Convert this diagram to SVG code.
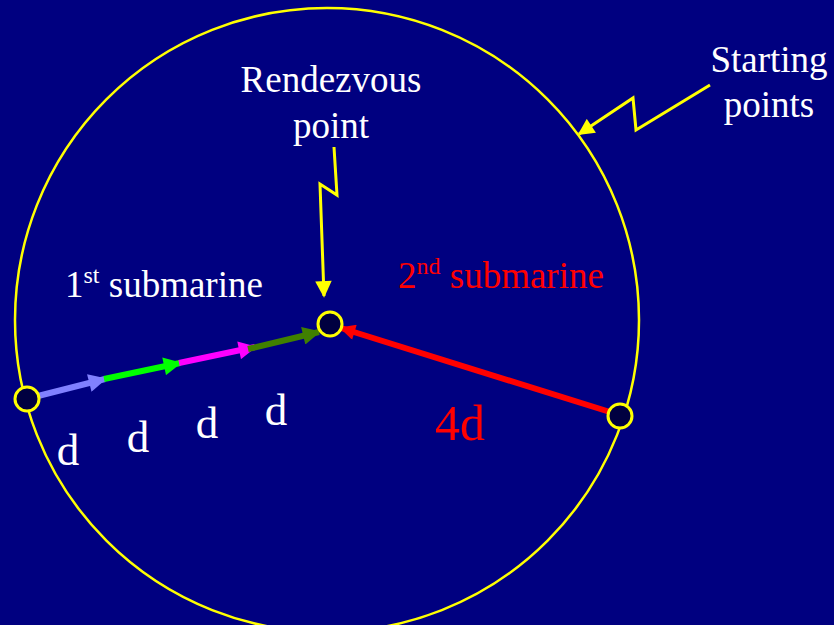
<svg xmlns="http://www.w3.org/2000/svg" width="834" height="625" viewBox="0 0 834 625">
<defs>
<style>
.t{font-family:"Liberation Serif","Times New Roman",serif;fill:#fff}
.r{fill:#ff0000}
.node{fill:#000040;stroke:#ffff00;stroke-width:3}
.seg{stroke-width:6;fill:none}
.bolt{stroke:#ffff00;stroke-width:3;fill:none;stroke-linejoin:miter}
</style>
<marker id="mb" viewBox="0 0 10 10" refX="9" refY="5" markerWidth="3.2" markerHeight="3" orient="auto" markerUnits="strokeWidth"><path d="M0,0L10,5L0,10z" fill="#8080ff"/></marker>
<marker id="mg" viewBox="0 0 10 10" refX="9" refY="5" markerWidth="3.2" markerHeight="3" orient="auto" markerUnits="strokeWidth"><path d="M0,0L10,5L0,10z" fill="#00ff00"/></marker>
<marker id="mm" viewBox="0 0 10 10" refX="9" refY="5" markerWidth="3.2" markerHeight="3" orient="auto" markerUnits="strokeWidth"><path d="M0,0L10,5L0,10z" fill="#ff00ff"/></marker>
<marker id="md" viewBox="0 0 10 10" refX="9" refY="5" markerWidth="3.2" markerHeight="3" orient="auto" markerUnits="strokeWidth"><path d="M0,0L10,5L0,10z" fill="#408000"/></marker>
<marker id="mr" viewBox="0 0 10 10" refX="9" refY="5" markerWidth="3" markerHeight="2.6" orient="auto" markerUnits="strokeWidth"><path d="M0,0L10,5L0,10z" fill="#ff0000"/></marker>
<marker id="my" viewBox="0 0 10 10" refX="9" refY="5" markerWidth="6" markerHeight="5.5" orient="auto" markerUnits="strokeWidth"><path d="M0,0L10,5L0,10z" fill="#ffff00"/></marker>
</defs>
<rect width="834" height="625" fill="#000080"/>
<circle id="orbit" cx="327" cy="320" r="312" fill="none" stroke="#ffff00" stroke-width="2.5"/>
<g id="connectors">
<line class="seg" x1="38" y1="396" x2="105" y2="379" stroke="#8080ff" marker-end="url(#mb)"/>
<line class="seg" x1="104" y1="379" x2="180" y2="363" stroke="#00ff00" marker-end="url(#mg)"/>
<line class="seg" x1="179" y1="363" x2="255" y2="347" stroke="#ff00ff" marker-end="url(#mm)"/>
<line class="seg" x1="248" y1="349" x2="319" y2="332" stroke="#408000" marker-end="url(#md)"/>
<line class="seg" x1="610" y1="412" x2="341" y2="328" stroke="#ff0000" marker-end="url(#mr)"/>
<polyline class="bolt" points="334,147 337,195 320,184 324,296" marker-end="url(#my)"/>
<polyline class="bolt" points="710,85 636,130 633,98 579,134" marker-end="url(#my)"/>
</g>
<g id="start1"><circle class="node" cx="27" cy="399" r="12"/></g>
<g id="start2"><circle class="node" cx="620" cy="416" r="12"/></g>
<g id="rendezvous"><circle class="node" cx="330" cy="324" r="12"/></g>
<g id="labels">
<text class="t" x="331" y="92" font-size="37" text-anchor="middle">Rendezvous</text>
<text class="t" x="331" y="138" font-size="37" text-anchor="middle">point</text>
<text class="t" x="769" y="72" font-size="37" text-anchor="middle">Starting</text>
<text class="t" x="769" y="117" font-size="37" text-anchor="middle">points</text>
<text class="t" x="65" y="297" font-size="37">1<tspan font-size="24" dy="-14">st</tspan><tspan dy="14"> submarine</tspan></text>
<text class="t r" x="398" y="288" font-size="37">2<tspan font-size="24" dy="-14">nd</tspan><tspan dy="14"> submarine</tspan></text>
<text class="t" x="68" y="465" font-size="45" text-anchor="middle">d</text>
<text class="t" x="138" y="452" font-size="45" text-anchor="middle">d</text>
<text class="t" x="207" y="438" font-size="45" text-anchor="middle">d</text>
<text class="t" x="276" y="425" font-size="45" text-anchor="middle">d</text>
<text class="t r" x="460" y="440" font-size="50" text-anchor="middle">4d</text>
</g>
</svg>
